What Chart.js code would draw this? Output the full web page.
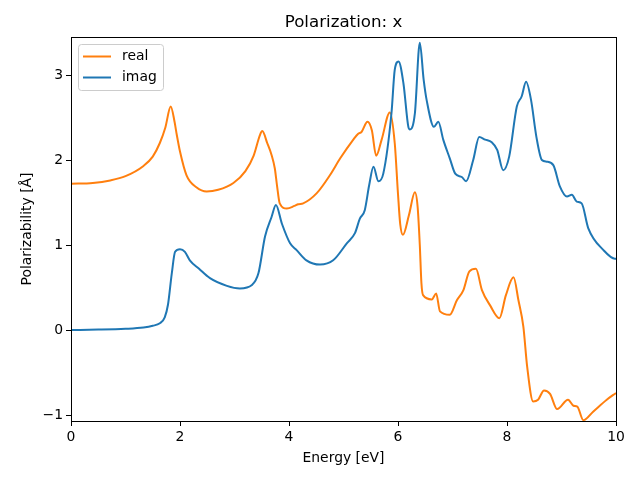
<!DOCTYPE html>
<html>
<head>
<meta charset="utf-8">
<script src="https://cdn.jsdelivr.net/npm/chart.js"></script>
<style>
  body { margin: 0; background: #fff; }
  #wrap { width: 640px; height: 480px; }
</style>
</head>
<body>
<div id="wrap"><canvas id="polChart" width="640" height="480"></canvas></div>
<script>
// data (energy in eV)
const realE = [0, 0.4, 0.72, 1.0, 1.33, 1.5, 1.63, 1.73, 1.83, 1.9, 1.94, 2.0, 2.12, 2.3, 2.49, 2.7, 2.98, 3.2, 3.35, 3.47, 3.51, 3.6, 3.68, 3.74, 3.78, 3.83, 3.96, 4.1, 4.17, 4.26, 4.51, 4.75, 4.94, 5.18, 5.27, 5.33, 5.44, 5.52, 5.6, 5.7, 5.85, 5.94, 6.0, 6.04, 6.09, 6.2, 6.31, 6.36, 6.4, 6.43, 6.46, 6.62, 6.7, 6.77, 6.95, 7.08, 7.2, 7.31, 7.43, 7.54, 7.69, 7.86, 7.98, 8.12, 8.21, 8.3, 8.37, 8.48, 8.57, 8.68, 8.79, 8.92, 9.12, 9.22, 9.29, 9.4, 9.58, 9.83, 10];
const realY = [1.72, 1.73, 1.76, 1.81, 1.93, 2.04, 2.2, 2.38, 2.63, 2.45, 2.3, 2.1, 1.82, 1.68, 1.63, 1.65, 1.73, 1.87, 2.05, 2.3, 2.34, 2.2, 2.06, 1.9, 1.7, 1.49, 1.43, 1.46, 1.48, 1.49, 1.61, 1.82, 2.02, 2.24, 2.31, 2.33, 2.45, 2.35, 2.05, 2.24, 2.56, 2.2, 1.6, 1.25, 1.12, 1.35, 1.62, 1.45, 1.0, 0.55, 0.41, 0.36, 0.43, 0.22, 0.18, 0.35, 0.47, 0.69, 0.72, 0.47, 0.29, 0.14, 0.41, 0.62, 0.35, 0.04, -0.43, -0.84, -0.82, -0.71, -0.75, -0.93, -0.82, -0.89, -0.9, -1.06, -0.96, -0.82, -0.74];

const imagE = [0, 0.5, 1.0, 1.33, 1.5, 1.63, 1.72, 1.78, 1.85, 1.91, 2.0, 2.09, 2.18, 2.35, 2.55, 2.86, 3.1, 3.32, 3.44, 3.56, 3.68, 3.76, 3.87, 4.02, 4.14, 4.32, 4.57, 4.81, 5.06, 5.21, 5.3, 5.39, 5.47, 5.55, 5.64, 5.73, 5.88, 5.94, 6.01, 6.1, 6.19, 6.22, 6.31, 6.4, 6.47, 6.53, 6.66, 6.74, 6.83, 6.95, 7.05, 7.17, 7.25, 7.38, 7.49, 7.6, 7.72, 7.82, 7.93, 8.04, 8.18, 8.27, 8.35, 8.44, 8.54, 8.64, 8.73, 8.85, 8.97, 9.1, 9.19, 9.28, 9.37, 9.49, 9.77, 9.98, 10];
const imagY = [0, 0.005, 0.015, 0.03, 0.05, 0.08, 0.15, 0.3, 0.67, 0.92, 0.95, 0.92, 0.82, 0.72, 0.61, 0.52, 0.49, 0.53, 0.67, 1.1, 1.33, 1.47, 1.25, 1.02, 0.94, 0.82, 0.77, 0.82, 1.02, 1.14, 1.31, 1.41, 1.7, 1.92, 1.75, 1.84, 2.55, 3.06, 3.16, 2.9, 2.39, 2.36, 2.55, 3.38, 2.95, 2.69, 2.39, 2.45, 2.24, 2.02, 1.84, 1.8, 1.75, 2.0, 2.27, 2.24, 2.21, 2.12, 1.88, 2.04, 2.63, 2.75, 2.92, 2.71, 2.27, 2.0, 1.98, 1.94, 1.69, 1.57, 1.59, 1.51, 1.49, 1.2, 0.94, 0.84, 0.84];

const xTicks = [0, 2, 4, 6, 8, 10];
const yTicks = [-1, 0, 1, 2, 3];
const seriesNames = ['real', 'imag'];
const seriesColors = ['#ff7f0e', '#1f77b4'];

const FONT = 'DejaVu Sans';
const SMALL = 13.9;

function toPoints(xs, ys) {
    return xs.map((x, i) => ({ x: x, y: ys[i] }));
}

// box around plot + legend in the upper left, matplotlib style
const framePlugin = {
    id: 'frame',
    afterDatasetsDraw(chart) {
        const c = chart.ctx, a = chart.chartArea;
        c.save();
        c.strokeStyle = '#000';
        c.lineWidth = 1;
        c.strokeRect(Math.round(a.left) + 0.5, Math.round(a.top) + 0.5,
                     Math.round(a.right - a.left), Math.round(a.bottom - a.top));

        // legend
        const lx = a.left + 7, ly = a.top + 7, lw = 85, lh = 46;
        c.fillStyle = 'rgba(255,255,255,0.8)';
        c.strokeStyle = '#cccccc';
        c.beginPath();
        c.roundRect(lx + 0.5, ly + 0.5, lw, lh, 3);
        c.fill();
        c.stroke();
        c.font = SMALL + 'px "' + FONT + '"';
        c.textBaseline = 'middle';
        seriesNames.forEach((name, i) => {
            const y = ly + 12.5 + i * 21;
            c.strokeStyle = seriesColors[i];
            c.lineWidth = 2;
            c.beginPath();
            c.moveTo(lx + 5, y);
            c.lineTo(lx + 33, y);
            c.stroke();
            c.fillStyle = '#000';
            c.fillText(name, lx + 44, y);
        });
        c.restore();
    }
};

const ctx = document.getElementById('polChart').getContext('2d');

const polChart = new Chart(ctx, {
    type: 'scatter',
    data: {
        datasets: [
            {
                label: seriesNames[0],
                data: toPoints(realE, realY),
                borderColor: seriesColors[0],
                backgroundColor: seriesColors[0],
                order: 1
            },
            {
                label: seriesNames[1],
                data: toPoints(imagE, imagY),
                borderColor: seriesColors[1],
                backgroundColor: seriesColors[1],
                order: 0
            }
        ]
    },
    options: {
        responsive: false,
        animation: false,
        layout: { padding: { left: 0, right: 24, top: 0, bottom: 0 } },
        elements: {
            point: { radius: 0, hoverRadius: 0 },
            line: { borderWidth: 2, cubicInterpolationMode: 'monotone', fill: false }
        },
        datasets: { scatter: { showLine: true } },
        plugins: {
            legend: { display: false },
            tooltip: { enabled: false },
            title: {
                display: true,
                fullSize: false,
                text: 'Polarization: x',
                color: '#000',
                font: { family: FONT, size: 16.67, weight: 'normal', lineHeight: 1.2 },
                padding: { top: 13, bottom: 4 }
            }
        },
        scales: {
            x: {
                type: 'linear',
                min: 0,
                max: 10,
                afterBuildTicks: (s) => { s.ticks = xTicks.map(v => ({ value: v })); },
                afterFit: (s) => { s.height = 59; },
                grid: { display: true, drawOnChartArea: false, drawTicks: true, tickLength: 5, color: '#000' },
                border: { display: true, color: '#000', width: 1 },
                ticks: { color: '#000', padding: 3, maxRotation: 0, font: { family: FONT, size: SMALL } },
                title: {
                    display: true,
                    text: 'Energy [eV]',
                    color: '#000',
                    font: { family: FONT, size: SMALL },
                    padding: { top: 0, bottom: 13.5 }
                }
            },
            y: {
                type: 'linear',
                min: -1.07,
                max: 3.447,
                afterBuildTicks: (s) => { s.ticks = yTicks.map(v => ({ value: v })); },
                afterFit: (s) => { s.width = 71; },
                grid: { display: true, drawOnChartArea: false, drawTicks: true, tickLength: 5, color: '#000' },
                border: { display: true, color: '#000', width: 1 },
                ticks: {
                    color: '#000',
                    padding: 3,
                    font: { family: FONT, size: SMALL },
                    callback: (v) => String(v).replace('-', '\u2212')
                },
                title: {
                    display: true,
                    text: 'Polarizability [Å]',
                    color: '#000',
                    font: { family: FONT, size: SMALL },
                    padding: { top: 19.5, bottom: 0 }
                }
            }
        }
    },
    plugins: [framePlugin]
});
</script>
</body>
</html>
